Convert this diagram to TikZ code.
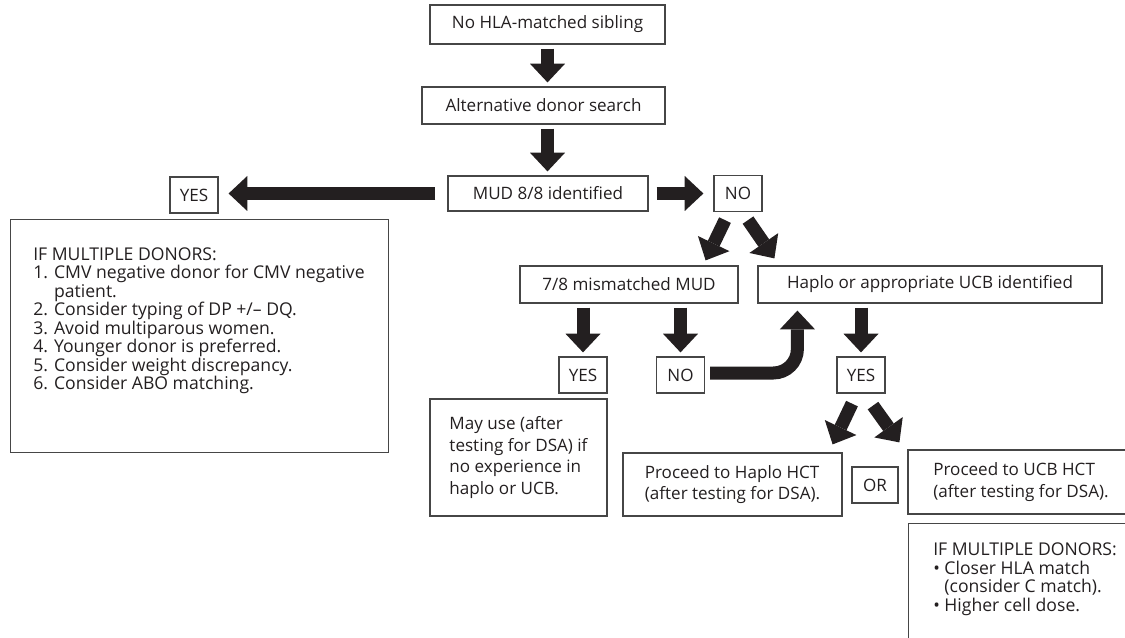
\documentclass[tikz,border=0pt]{standalone}
\usepackage{fontspec}
\setmainfont{Open Sans}
\usetikzlibrary{arrows.meta,calc}
\definecolor{arrow_dark}{RGB}{35,31,32}
\definecolor{box_line}{RGB}{70,70,70}

\begin{document}
\begin{tikzpicture}[x=0.75pt,y=-0.75pt,
    font=\fontsize{12.8}{16.3}\selectfont, text=arrow_dark,
    box/.style={draw=box_line, line width=0.9pt, inner sep=0pt, align=center},
    smallbox/.style={box, minimum width=36pt, minimum height=27pt},
    listtext/.style={inner sep=0pt, align=left, anchor=north west,
        font=\fontsize{13.2}{13.9}\selectfont},
    blockarrow/.style={draw=arrow_dark, line width=9.75pt,
        -{Triangle[width=26.25pt,length=14pt,line width=0pt]}},
    vgap/.style={shorten <=3pt, shorten >=3pt}]
    \useasboundingbox (0,0) rectangle (1125,638);

    % Search
    \node[box, minimum width=176.25pt, minimum height=29.25pt] (sib) at (547.5,24.5) {No HLA-matched sibling};
    \node[box, minimum width=182.25pt, minimum height=27.75pt] (alt) at (543.5,105.5) {Alternative donor search};
    \node[box, minimum width=150pt, minimum height=26.25pt] (mud) at (548,193.5) {MUD 8/8 identified};
    \node[smallbox] (yesA) at (194,195) {YES};
    \node[smallbox] (noA) at (738,193.5) {NO};

    % MUD found
    \node[box, anchor=north west, minimum width=283.5pt, minimum height=174.75pt] (multi) at (10,219) {};
    \node[listtext] (multitext) at ($(multi.north west)+(23,28)$) {IF MULTIPLE DONORS:\\
        1. CMV negative donor for CMV negative\\
        \hphantom{1. }patient.\\
        2. Consider typing of DP +/– DQ.\\
        3. Avoid multiparous women.\\
        4. Younger donor is preferred.\\
        5. Consider weight discrepancy.\\
        6. Consider ABO matching.};

    % Alternatives
    \node[box, minimum width=163.5pt, minimum height=27.75pt] (mm) at (629,284.5) {7/8 mismatched MUD};
    \node[box, minimum width=258pt, minimum height=27.75pt] (hap) at (930,284.5) {Haplo or appropriate UCB identified};
    \node[smallbox] (yesB) at (583,375) {YES};
    \node[smallbox] (noB) at (680.5,375) {NO};
    \node[smallbox] (yesC) at (861,375) {YES};
    \node[box, align=left, minimum width=132.75pt, minimum height=87.75pt] (may) at (518.5,457.5) {May use (after\\testing for DSA) if\\no experience in\\haplo or UCB.};

    % Transplant
    \node[box, align=left, minimum width=164.25pt, minimum height=47.25pt] (haphct) at (732.5,484.5) {Proceed to Haplo HCT\\(after testing for DSA).};
    \node[smallbox, minimum width=34.5pt] (orB) at (875,485) {OR};
    \node[box, align=left, minimum width=169.5pt, minimum height=48pt] (ucbhct) at (1021,482) {Proceed to UCB HCT\\(after testing for DSA).};
    \node[box, anchor=north west, minimum width=169.5pt, minimum height=105pt] (multiB) at (908,523) {};
    \node[listtext] (multiBtext) at ($(multiB.north west)+(25,19.5)$) {IF MULTIPLE DONORS:\\
        \textbullet\ Closer HLA match\\
        \hphantom{\textbullet\ }(consider C match).\\
        \textbullet\ Higher cell dose.};

    % Arrows
    \draw[blockarrow, vgap] (sib.south) -- (sib.south |- alt.north);
    \draw[blockarrow, vgap] (sib.south |- alt.south) -- (sib.south |- mud.north);
    \draw[blockarrow, shorten <=9pt, shorten >=7.5pt] (mud.west) -- (mud.west -| yesA.east);
    \draw[blockarrow, shorten <=6pt, shorten >=7.5pt] (mud.east) -- (mud.east -| noA.west);
    \draw[blockarrow] ($(noA.south)+(-13,8)$) -- ($(mm.north east)+(-33,-5)$);
    \draw[blockarrow] ($(noA.south)+(10,8)$) -- ($(hap.north west)+(17,-7)$);
    \draw[blockarrow, vgap] (yesB.north |- mm.south) -- (yesB.north);
    \draw[blockarrow, vgap] (noB.north |- mm.south) -- (noB.north);
    \draw[blockarrow, rounded corners=18pt] ($(noB.east)+(5,-2)$) -| ($(hap.south west)+(40,7)$);
    \draw[blockarrow, vgap] (yesC.north |- hap.south) -- (yesC.north);
    \draw[blockarrow] ($(yesC.south)+(-9,10)$) -- ($(haphct.north east)+(-10,-8)$);
    \draw[blockarrow] ($(yesC.south)+(12,12)$) -- ($(ucbhct.north west)+(-8,-7)$);
\end{tikzpicture}
\end{document}
